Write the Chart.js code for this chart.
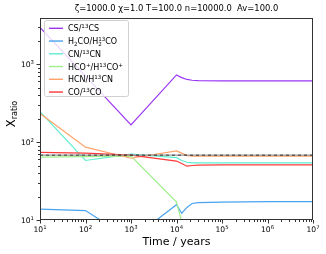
<!DOCTYPE html>
<html><head><meta charset="utf-8">
<script src="https://cdn.jsdelivr.net/npm/chart.js@4/dist/chart.umd.min.js"></script>
<style>html,body{margin:0;padding:0;background:#fff}canvas{display:block}</style>
</head><body><canvas id="c" width="326" height="254"></canvas>
<script>
// ---- data ----
const times      = [10, 100, 1000, 10000, 13000, 17000, 22000, 30000, 100000, 1000000, 10000000];
const csRatio    = [2960, 700, 166, 725, 670, 635, 620, 615, 610, 610, 610];
const h2coRatio  = [13.8, 13.2, 5.6, 15.7, 12.2, 14.5, 16.3, 16.7, 17.0, 17.2, 17.2];
const cnRatio    = [245, 58, 70, 63, 58, 55, 54, 54, 54, 54, 54];
const hcoRatio   = [64, 65, 66, 17, 9.5, 2, 1, 1, 1, 1, 1];
const hcnRatio   = [232, 86, 62, 77, 72, 67, 66, 66, 66, 66, 66];
const coRatio    = [73.5, 72, 68, 57, 53, 49, 50, 50.5, 51, 51, 51];
const solarRatio = 68;
const xTickValues = [1e1, 1e2, 1e3, 1e4, 1e5, 1e6, 1e7];
const xTickExps   = ['1', '2', '3', '4', '5', '6', '7'];
const yTickValues = [1e1, 1e2, 1e3];
const yTickExps   = ['1', '2', '3'];
const yMin = 10, yMax = 3900, xMin = 10, xMax = 1e7;

const seriesNames = [
  [{t:'CS/'},{t:'13',sup:1},{t:'CS'}],
  [{t:'H'},{t:'2',sub:1},{t:'CO/H'},{sub:'2',sup:'13'},{t:'CO'}],
  [{t:'CN/'},{t:'13',sup:1},{t:'CN'}],
  [{t:'HCO'},{t:'+',sup:1},{t:'/H'},{t:'13',sup:1},{t:'CO'},{t:'+',sup:1}],
  [{t:'HCN/H'},{t:'13',sup:1},{t:'CN'}],
  [{t:'CO/'},{t:'13',sup:1},{t:'CO'}]
];
const seriesColors = ['#9b35f5', '#4aa3ee', '#5eeed0', '#9fee8a', '#ffa36a', '#ff3a3a'];
const seriesValues = [csRatio, h2coRatio, cnRatio, hcoRatio, hcnRatio, coRatio];

const pts = arr => arr.map((v, i) => ({x: times[i], y: v}));
const datasets = seriesValues.map((vals, i) => ({
  data: pts(vals), borderColor: seriesColors[i], borderWidth: 1.2,
  pointRadius: 0, tension: 0, fill: false, order: 20 - i
}));
datasets.push({data: [{x: xMin, y: solarRatio}, {x: xMax, y: solarRatio}], borderColor: '#999',
  borderWidth: 1.1, borderDash: [3, 3], borderDashOffset: 3, pointRadius: 0, order: 2});
datasets.push({data: [{x: xMin, y: solarRatio}, {x: xMax, y: solarRatio}], borderColor: '#333',
  borderWidth: 1.1, borderDash: [3, 3], pointRadius: 0, order: 1});

const FONT = '"DejaVu Sans", sans-serif';
function richWidth(ctx, parts, size) {
  let w = 0;
  for (const p of parts) {
    if (p.sub !== undefined && p.sup !== undefined) {
      ctx.font = (size * 0.7) + 'px ' + FONT;
      w += Math.max(ctx.measureText(p.sub).width, ctx.measureText(p.sup).width);
    } else {
      ctx.font = ((p.sup || p.sub) ? size * 0.7 : size) + 'px ' + FONT;
      w += ctx.measureText(p.t).width;
    }
  }
  return w;
}
function drawRich(ctx, parts, x, y, size) {
  ctx.textBaseline = 'alphabetic'; ctx.textAlign = 'left';
  for (const p of parts) {
    if (p.sub !== undefined && p.sup !== undefined) {
      ctx.font = (size * 0.7) + 'px ' + FONT;
      ctx.fillText(p.sup, x, y - size * 0.38);
      ctx.fillText(p.sub, x, y + size * 0.2);
      x += Math.max(ctx.measureText(p.sub).width, ctx.measureText(p.sup).width);
    } else if (p.sup) {
      ctx.font = (size * 0.7) + 'px ' + FONT;
      ctx.fillText(p.t, x, y - size * 0.38); x += ctx.measureText(p.t).width;
    } else if (p.sub) {
      ctx.font = (size * 0.7) + 'px ' + FONT;
      ctx.fillText(p.t, x, y + size * 0.2); x += ctx.measureText(p.t).width;
    } else {
      ctx.font = size + 'px ' + FONT;
      ctx.fillText(p.t, x, y); x += ctx.measureText(p.t).width;
    }
  }
}

const decor = {
  id: 'decor',
  afterDatasetsDraw(chart) {
    const ctx = chart.ctx, a = chart.chartArea;
    const xs = chart.scales.x, ys = chart.scales.y;
    ctx.save();
    ctx.fillStyle = '#000'; ctx.strokeStyle = '#333'; ctx.lineWidth = 1;
    // frame
    ctx.strokeRect(Math.round(a.left) + 0.5, Math.round(a.top) + 0.5,
      Math.round(a.right - a.left) - 1, Math.round(a.bottom - a.top) - 1);
    // x ticks
    ctx.beginPath();
    for (let d = 1; d <= 7; d++) {
      for (let m = 1; m <= 9; m++) {
        const v = m * Math.pow(10, d);
        if (v > xMax * 1.0001) break;
        const px = Math.round(xs.getPixelForValue(v)) + 0.5;
        const len = m === 1 ? 3.5 : 2;
        ctx.moveTo(px, a.bottom); ctx.lineTo(px, a.bottom + len);
      }
    }
    for (let d = 1; d <= 3; d++) {
      for (let m = 1; m <= 9; m++) {
        const v = m * Math.pow(10, d);
        if (v > yMax) break;
        const py = Math.round(ys.getPixelForValue(v)) + 0.5;
        const len = m === 1 ? 3.5 : 2;
        ctx.moveTo(a.left, py); ctx.lineTo(a.left - len, py);
      }
    }
    ctx.stroke();
    // tick labels
    const tsz = 7.6;
    xTickValues.forEach((v, i) => {
      const parts = [{t: '10'}, {t: xTickExps[i], sup: 1}];
      const w = richWidth(ctx, parts, tsz);
      drawRich(ctx, parts, xs.getPixelForValue(v) - w / 2, a.bottom + 12, tsz);
    });
    yTickValues.forEach((v, i) => {
      const parts = [{t: '10'}, {t: yTickExps[i], sup: 1}];
      const w = richWidth(ctx, parts, tsz);
      drawRich(ctx, parts, a.left - 6 - w, ys.getPixelForValue(v) + 3, tsz);
    });
    // title
    ctx.font = '8.4px ' + FONT; ctx.textAlign = 'center'; ctx.textBaseline = 'middle';
    ctx.fillText('ζ=1000.0 χ=1.0 T=100.0 n=10000.0  Av=100.0', (a.left + a.right) / 2, 9);
    // x title
    ctx.font = '11px ' + FONT;
    ctx.fillText('Time / years', (a.left + a.right) / 2, 242);
    // y title
    ctx.save();
    ctx.translate(15, 114); ctx.rotate(-Math.PI / 2);
    const yparts = [{t: 'X'}, {t: 'ratio', sub: 1}];
    const yw = richWidth(ctx, yparts, 11.5);
    drawRich(ctx, yparts, -yw / 2, 0, 11.5);
    ctx.restore();
    // legend
    const lx = 44.5, ly = 20.5, lw = 84, lh = 76;
    ctx.beginPath();
    if (ctx.roundRect) ctx.roundRect(lx, ly, lw, lh, 2); else ctx.rect(lx, ly, lw, lh);
    ctx.fillStyle = 'rgba(255,255,255,0.8)'; ctx.fill();
    ctx.strokeStyle = '#d0d0d0'; ctx.lineWidth = 1; ctx.stroke();
    seriesNames.forEach((parts, i) => {
      const ry = 28.3 + i * 12.75;
      ctx.strokeStyle = seriesColors[i]; ctx.lineWidth = 1.4;
      ctx.beginPath(); ctx.moveTo(49, ry); ctx.lineTo(63, ry); ctx.stroke();
      ctx.fillStyle = '#000';
      drawRich(ctx, parts, 68, ry + 3, 8);
    });
    ctx.restore();
  }
};

new Chart(document.getElementById('c'), {
  type: 'line',
  data: {datasets},
  options: {
    responsive: false, animation: false, devicePixelRatio: 1,
    layout: {padding: {top: 18, right: 13, left: 0, bottom: 0}},
    plugins: {legend: {display: false}, tooltip: {enabled: false}, title: {display: false}},
    scales: {
      x: {type: 'logarithmic', min: xMin, max: xMax,
        grid: {display: false}, border: {display: false}, ticks: {display: false},
        afterFit(s) { s.height = 34; }},
      y: {type: 'logarithmic', min: yMin, max: yMax,
        grid: {display: false}, border: {display: false}, ticks: {display: false},
        afterFit(s) { s.width = 40; }}
    }
  },
  plugins: [decor]
});
</script>
</body></html>
